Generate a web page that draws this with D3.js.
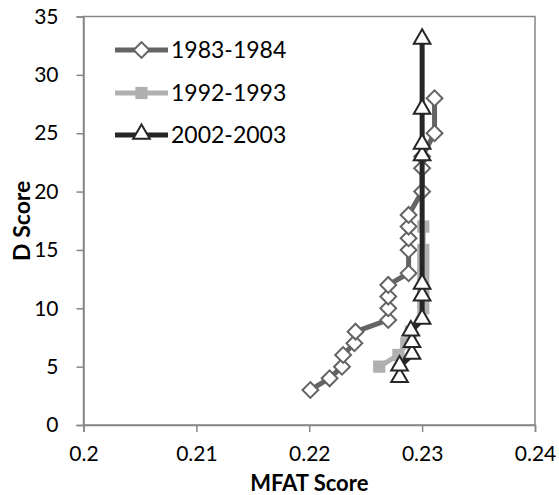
<!DOCTYPE html>
<html>
<head>
<meta charset="utf-8">
<script src="https://cdn.jsdelivr.net/npm/d3@7"></script>
<style>
  html, body { margin: 0; padding: 0; background: #fff; }
  svg { display: block; font-family: Lato, "Open Sans", sans-serif; }
</style>
</head>
<body>
<svg id="chart" width="559" height="495"></svg>
<script>
// MFAT score (x) against D score (y) for three survey periods
const seriesNames = ["1983-1984", "1992-1993", "2002-2003"];

const mfat8384 = [0.2201, 0.2218, 0.2229, 0.2230, 0.2240, 0.2241, 0.2270, 0.2270, 0.2270, 0.2270,
                  0.2288, 0.2288, 0.2288, 0.2288, 0.2288, 0.2300, 0.2300, 0.2300, 0.2311, 0.2311];
const d8384    = [3, 4, 5, 6, 7, 8, 9, 10, 11, 12, 13, 15, 16, 17, 18, 20, 22, 23, 25, 28];

const mfat9293 = [0.2262, 0.2279, 0.2286, 0.2290, 0.2301, 0.2301, 0.2301, 0.2301, 0.2301, 0.2301, 0.2301];
const d9293    = [5, 6, 7, 8, 10, 11, 12, 13, 14, 15, 17];

const mfat0203 = [0.2280, 0.2280, 0.2291, 0.2291, 0.2290, 0.2300, 0.2300, 0.2300, 0.2300, 0.2300, 0.2300, 0.2300];
const d0203    = [4, 5, 6, 7, 8, 9, 11, 12, 23, 24, 27, 33];

const xTicks = [0.20, 0.21, 0.22, 0.23, 0.24];
const xTickLabels = ["0.2", "0.21", "0.22", "0.23", "0.24"];
const yTicks = [0, 5, 10, 15, 20, 25, 30, 35];

const svg = d3.select("#chart");
const margin = { top: 16.5, right: 24, bottom: 70, left: 83.5 };
const W = 559, H = 495;
const innerW = W - margin.left - margin.right;
const innerH = H - margin.top - margin.bottom;

const x = d3.scaleLinear().domain([0.20, 0.24]).range([margin.left, margin.left + innerW]);
const y = d3.scaleLinear().domain([0, 35]).range([margin.top + innerH, margin.top]);

const axisColor = "#868686";

// plot area border
svg.append("rect")
  .attr("x", margin.left).attr("y", margin.top)
  .attr("width", innerW).attr("height", innerH)
  .attr("fill", "none").attr("stroke", axisColor).attr("stroke-width", 1.5);

// axes
const xAxis = svg.append("g")
  .attr("transform", `translate(0,${margin.top + innerH})`)
  .call(d3.axisBottom(x).tickValues(xTicks).tickFormat((d, i) => xTickLabels[i]).tickSizeOuter(0).tickSize(7).tickPadding(14));
const yAxis = svg.append("g")
  .attr("transform", `translate(${margin.left},0)`)
  .call(d3.axisLeft(y).tickValues(yTicks).tickFormat(d3.format("d")).tickSizeOuter(0).tickSize(7).tickPadding(18));

[xAxis, yAxis].forEach(g => {
  g.select(".domain").attr("stroke", axisColor).attr("stroke-width", 1.5);
  g.selectAll(".tick line").attr("stroke", axisColor).attr("stroke-width", 1.5);
  g.selectAll(".tick text").attr("fill", "#000").style("font-size", "21px").style("font-family", "Lato, sans-serif");
});

// axis titles
svg.append("text")
  .attr("x", margin.left + innerW / 2).attr("y", 491)
  .attr("text-anchor", "middle")
  .style("font-size", "22px").style("font-weight", "bold")
  .text("MFAT Score");
svg.append("text")
  .attr("transform", `translate(30,${margin.top + innerH / 2}) rotate(-90)`)
  .attr("text-anchor", "middle")
  .style("font-size", "23px").style("font-weight", "bold")
  .text("D Score");

// marker shapes
const diamondPath = d3.symbol().type(d3.symbolSquare).size(125)();
const squarePath = d3.symbol().type(d3.symbolSquare).size(150)();
const trianglePath = d3.symbol().type(d3.symbolTriangle).size(120)();

const series = [
  { name: seriesNames[0], xs: mfat8384, ys: d8384, color: "#646464", marker: "diamond" },
  { name: seriesNames[1], xs: mfat9293, ys: d9293, color: "#b0b0b0", marker: "square" },
  { name: seriesNames[2], xs: mfat0203, ys: d0203, color: "#262626", marker: "triangle" }
];

function drawMarker(sel, s) {
  if (s.marker === "diamond") {
    sel.append("path").attr("d", diamondPath)
      .attr("transform", (d) => `translate(${d[0]},${d[1]}) rotate(45)`)
      .attr("fill", "#fff").attr("stroke", s.color).attr("stroke-width", 2);
  } else if (s.marker === "square") {
    sel.append("path").attr("d", squarePath)
      .attr("transform", (d) => `translate(${d[0]},${d[1]})`)
      .attr("fill", s.color).attr("stroke", "none");
  } else {
    sel.append("path").attr("d", trianglePath)
      .attr("transform", (d) => `translate(${d[0]},${d[1] - 1})`)
      .attr("fill", "#fff").attr("stroke", s.color).attr("stroke-width", 2);
  }
}

const line = d3.line().x(d => d[0]).y(d => d[1]);

series.forEach(s => {
  const pts = s.xs.map((v, i) => [x(v), y(s.ys[i])]);
  const g = svg.append("g");
  g.append("path").datum(pts)
    .attr("d", line)
    .attr("fill", "none").attr("stroke", s.color).attr("stroke-width", 5)
    .attr("stroke-linejoin", "round").attr("stroke-linecap", "round");
  const m = g.selectAll("g.pt").data(pts).join("g").attr("class", "pt");
  drawMarker(m, s);
});

// legend
const legend = svg.append("g");
const legendY = [50, 93, 135];
series.forEach((s, i) => {
  const g = legend.append("g");
  g.append("line").attr("x1", 115).attr("x2", 168)
    .attr("y1", legendY[i]).attr("y2", legendY[i])
    .attr("stroke", s.color).attr("stroke-width", 5);
  const m = g.selectAll("g.lm").data([[141.5, legendY[i]]]).join("g").attr("class", "lm");
  drawMarker(m, s);
  g.append("text").attr("x", 171).attr("y", legendY[i])
    .attr("dy", "0.36em")
    .style("font-size", "23px")
    .text(s.name);
});
</script>
</body>
</html>
